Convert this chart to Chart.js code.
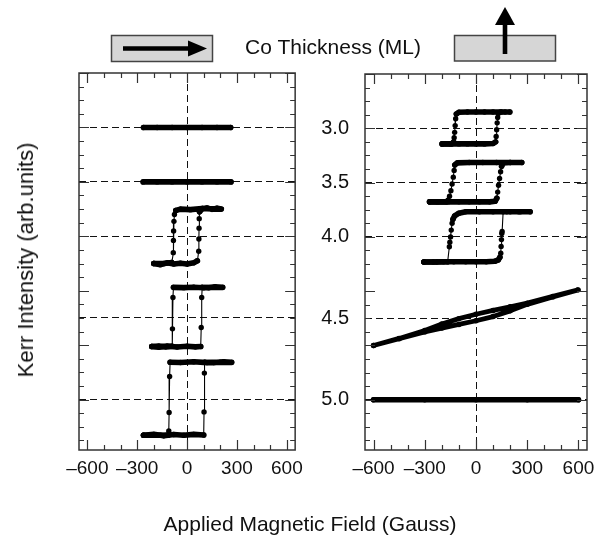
<!DOCTYPE html>
<html>
<head>
<meta charset="utf-8">
<script src="https://cdn.jsdelivr.net/npm/chart.js@4.4.0/dist/chart.umd.min.js"></script>
<style>
  body { margin: 0; background: #fff; }
  #wrap { position: relative; width: 611px; height: 545px; background: #fff; font-family: "Liberation Sans", Arial, sans-serif; color: #111; }
  canvas { position: absolute; top: 0; }
  .lbl { position: absolute; white-space: nowrap; }
</style>
</head>
<body>
<div id="wrap">
  <canvas id="left" width="310" height="545" style="left:0"></canvas>
  <canvas id="right" width="301" height="545" style="left:310px"></canvas>
  <svg width="611" height="70" style="position:absolute;left:0;top:0">
    <rect x="111.5" y="35.5" width="101" height="26" fill="#d6d6d6" stroke="#444" stroke-width="1.5"/>
    <line x1="123" y1="48.5" x2="191" y2="48.5" stroke="#000" stroke-width="4.6"/>
    <polygon points="188,40.5 207,48.5 188,56.5" fill="#000"/>
    <rect x="454.5" y="35.5" width="101" height="25.5" fill="#d6d6d6" stroke="#444" stroke-width="1.5"/>
    <line x1="505" y1="54" x2="505" y2="23" stroke="#000" stroke-width="4.6"/>
    <polygon points="495,25 505,7 515,25" fill="#000"/>
  </svg>
  <div class="lbl" style="left:333px;top:47px;transform:translate(-50%,-50%);font-size:21px">Co Thickness (ML)</div>
  <div class="lbl" style="left:26px;top:260px;transform:translate(-50%,-50%) rotate(-90deg);font-size:22px">Kerr Intensity (arb.units)</div>
  <div class="lbl" style="left:310px;top:524px;transform:translate(-50%,-50%);font-size:21px">Applied Magnetic Field (Gauss)</div>
</div>
<script>
// thickness labels and where each curve sits on the kerr axis
const thicknessLabels = ['3.0', '3.5', '4.0', '4.5', '5.0'];
const thicknessOffsets = [20, 16, 12, 6, 0];
const fieldTicks = [-600, -300, 0, 300, 600];

// in-plane loops (left panel): field (G) / kerr (arb.)
const ip30H = [-262, -180, -90, 0, 90, 180, 262];
const ip30K = [20, 20, 20, 20, 20, 20, 20];
const ip35H = [-264, -180, -90, 0, 90, 180, 264];
const ip35K = [16, 16, 16, 16, 16, 16, 16];
const ip40H = [-200, -160, -120, -80, -40, 0, 40, 62, 70, 71, 72, 73, 75, 90, 120, 150, 180, 206, 150, 90, 20, -40, -68, -76, -79, -81, -82, -83, -92, -140, -200];
const ip40K = [10.0, 9.92, 10.05, 9.97, 10.02, 9.96, 10.05, 10.2, 10.9, 11.8, 12.6, 13.3, 13.8, 14.0, 14.08, 13.98, 14.06, 14.0, 14.02, 14.05, 13.96, 14.0, 13.9, 13.6, 13.1, 12.4, 11.7, 10.8, 10.08, 10.0, 10.0];
const ip45H = [-212, -170, -120, -60, 0, 50, 82, 85, 88, 91, 130, 170, 214, 160, 100, 40, -20, -82, -85, -88, -90, -130, -170, -212];
const ip45K = [3.9, 3.86, 3.93, 3.87, 3.92, 3.88, 3.9, 5.3, 7.5, 8.25, 8.22, 8.28, 8.25, 8.27, 8.22, 8.26, 8.23, 8.25, 7.5, 5.2, 3.92, 3.88, 3.93, 3.9];
const ip50H = [-262, -200, -140, -80, -20, 40, 100, 102, 104, 106, 160, 220, 268, 200, 120, 40, -40, -102, -105, -108, -110, -112, -160, -262];
const ip50K = [-2.62, -2.55, -2.66, -2.56, -2.62, -2.55, -2.6, -0.9, 1.95, 2.75, 2.72, 2.78, 2.74, 2.76, 2.72, 2.78, 2.73, 2.75, 1.7, -0.95, -2.3, -2.6, -2.62, -2.62];

// perpendicular loops (right panel)
const pp30H = [-198, -150, -100, -50, 0, 50, 100, 115, 118, 121, 124, 127, 130, 142, 170, 198, 150, 100, 50, 0, -50, -100, -115, -119, -122, -125, -128, -131, -142, -198];
const pp30K = [18.85, 18.85, 18.85, 18.85, 18.85, 18.85, 18.88, 19.0, 19.4, 19.9, 20.4, 20.8, 21.1, 21.2, 21.2, 21.2, 21.2, 21.2, 21.2, 21.2, 21.2, 21.18, 21.05, 20.7, 20.2, 19.7, 19.3, 19.0, 18.85, 18.85];
const pp35H = [-272, -220, -160, -100, -40, 20, 80, 112, 122, 127, 132, 138, 144, 150, 160, 200, 268, 200, 120, 40, -40, -110, -124, -128, -133, -140, -147, -155, -163, -172, -230, -272];
const pp35K = [14.58, 14.58, 14.58, 14.58, 14.58, 14.58, 14.58, 14.62, 14.85, 15.3, 15.8, 16.3, 16.8, 17.2, 17.45, 17.48, 17.48, 17.48, 17.48, 17.48, 17.48, 17.45, 17.3, 16.9, 16.4, 15.9, 15.4, 15.0, 14.7, 14.58, 14.58, 14.58];
const pp40H = [-305, -250, -190, -130, -60, 0, 60, 110, 130, 140, 145, 147, 149, 151, 153, 159, 200, 260, 317, 250, 180, 100, 20, -60, -100, -125, -135, -140, -145, -149, -153, -156, -166, -230, -305];
const pp40K = [10.15, 10.15, 10.17, 10.17, 10.17, 10.17, 10.17, 10.2, 10.3, 10.5, 10.8, 11.3, 11.8, 12.25, 12.4, 13.85, 13.85, 13.85, 13.85, 13.85, 13.85, 13.85, 13.85, 13.85, 13.75, 13.55, 13.3, 13.0, 12.5, 12.0, 11.6, 11.27, 10.17, 10.15, 10.15];
const pp45H = [-600, -450, -300, -200, -100, 0, 100, 200, 300, 450, 598, 450, 300, 200, 100, 0, -100, -200, -300, -450, -600];
const pp45K = [4.0, 4.5, 5.0, 5.28, 5.55, 5.82, 6.13, 6.55, 7.03, 7.58, 8.1, 7.62, 7.12, 6.85, 6.58, 6.3, 5.98, 5.58, 5.1, 4.52, 4.0];
const pp50H = [-600, -300, 0, 300, 600];
const pp50K = [0, 0, 0, 0, 0];

const fontFamily = '"Liberation Sans", Arial, sans-serif';

function loop(h, k, thick) {
  return {
    data: h.map((v, i) => ({ x: v, y: k[i] })),
    showLine: true,
    borderColor: '#000',
    backgroundColor: '#000',
    pointRadius: 2.7,
    pointBorderWidth: 0,
    borderCapStyle: 'round',
    borderJoinStyle: 'round',
    segment: {
      // steep switching parts are thin lines, the saturated branches thick
      borderWidth: c => Math.abs(c.p1.y - c.p0.y) > 2.5 * Math.abs(c.p1.x - c.p0.x) ? 1.1 : (thick || 5.6)
    }
  };
}

// frame + inward ticks on all four sides
const frameTicks = {
  id: 'frameTicks',
  afterDraw(chart) {
    const { ctx, chartArea: a, scales: { x, y } } = chart;
    ctx.save();
    ctx.strokeStyle = '#333';
    ctx.lineWidth = 1.2;
    ctx.beginPath();
    for (let h = -600; h <= 600; h += 100) {
      const px = Math.round(x.getPixelForValue(h)) + 0.5;
      const len = h % 300 === 0 ? 10 : 5;
      ctx.moveTo(px, a.bottom); ctx.lineTo(px, a.bottom - len);
      ctx.moveTo(px, a.top); ctx.lineTo(px, a.top + len);
    }
    for (let k = -3; k <= 24; k++) {
      const py = Math.round(y.getPixelForValue(k)) + 0.5;
      const len = k % 4 === 0 ? 10 : 5;
      ctx.moveTo(a.left, py); ctx.lineTo(a.left + len, py);
      ctx.moveTo(a.right, py); ctx.lineTo(a.right - len, py);
    }
    ctx.stroke();
    ctx.lineWidth = 1.5;
    ctx.strokeRect(a.left, a.top, a.right - a.left, a.bottom - a.top);
    ctx.restore();
  }
};

function makeChart(id, curves, showY, pad) {
  return new Chart(document.getElementById(id), {
    type: 'scatter',
    data: { datasets: curves },
    options: {
      responsive: false,
      animation: false,
      layout: { padding: pad },
      plugins: { legend: { display: false }, tooltip: { enabled: false } },
      scales: {
        x: {
          type: 'linear', min: -650, max: 650,
          afterBuildTicks: s => { s.ticks = fieldTicks.map(v => ({ value: v })); },
          afterFit: s => { s.height = 95; },
          ticks: {
            font: { family: fontFamily, size: 19 }, color: '#111', padding: 7, maxRotation: 0,
            callback: v => v < 0 ? '\u2013' + Math.abs(v) : String(v)
          },
          grid: {
            drawTicks: false,
            color: c => c.tick && c.tick.value === 0 ? '#111' : 'rgba(0,0,0,0)',
            lineWidth: 1
          },
          border: { display: false, dash: [7, 4] }
        },
        y: {
          type: 'linear', min: -3.7, max: 24,
          afterBuildTicks: s => { s.ticks = thicknessOffsets.map(v => ({ value: v })); },
          afterFit: s => { s.width = showY ? 55 : 0; },
          ticks: {
            display: showY,
            font: { family: fontFamily, size: 20 }, color: '#111', padding: 16,
            callback: v => thicknessLabels[thicknessOffsets.indexOf(v)]
          },
          grid: { drawTicks: false, color: '#111', lineWidth: 1 },
          border: { display: false, dash: [7, 4] }
        }
      }
    },
    plugins: [frameTicks]
  });
}

makeChart('left', [
  loop(ip30H, ip30K), loop(ip35H, ip35K), loop(ip40H, ip40K), loop(ip45H, ip45K), loop(ip50H, ip50K)
], false, { left: 79, right: 8, top: 73, bottom: 0 });

makeChart('right', [
  loop(pp30H, pp30K), loop(pp35H, pp35K), loop(pp40H, pp40K), loop(pp45H, pp45K, 4.8), loop(pp50H, pp50K)
], true, { left: 0, right: 24, top: 74, bottom: 0 });
</script>
</body>
</html>
